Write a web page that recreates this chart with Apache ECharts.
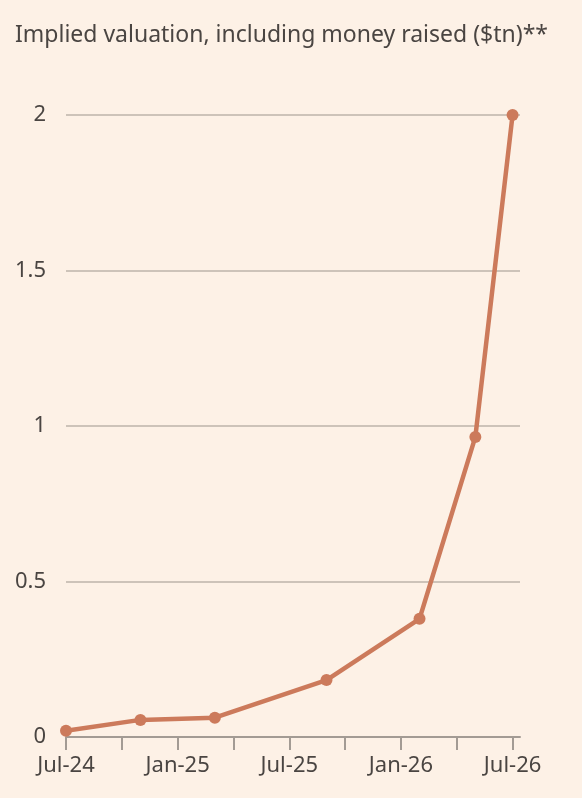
<!DOCTYPE html>
<html>
<head>
<meta charset="utf-8">
<script src="https://cdn.jsdelivr.net/npm/echarts@6/dist/echarts.min.js"></script>
<style>
  html, body { margin: 0; padding: 0; background: #fdf1e6; }
  #chart { width: 582px; height: 798px; }
</style>
</head>
<body>
<div id="chart"></div>
<script>
// funding rounds (month) and implied valuation in $tn
const roundDates = ["2024-07", "2024-11", "2025-03", "2025-09", "2026-02", "2026-05", "2026-07"];
const valuations = [0.02, 0.055, 0.062, 0.183, 0.38, 0.965, 2.0];
const yTicks = [0, 0.5, 1, 1.5, 2];
const tickMonths = ["2024-07", "2024-10", "2025-01", "2025-04", "2025-07", "2025-10", "2026-01", "2026-04", "2026-07"];
const labelMonths = ["2024-07", "2025-01", "2025-07", "2026-01", "2026-07"];

const monthNames = ["Jan", "Feb", "Mar", "Apr", "May", "Jun", "Jul", "Aug", "Sep", "Oct", "Nov", "Dec"];
// months since Jul-24
function toIndex(s) {
  const [y, m] = s.split("-").map(Number);
  return (y - 2024) * 12 + (m - 7);
}
function toLabel(i) {
  const total = 2024 * 12 + 6 + Math.round(i);
  const y = Math.floor(total / 12), m = total % 12;
  return monthNames[m] + "-" + String(y).slice(2);
}

const textColor = "#4a4542";
const font = "'Noto Sans', sans-serif";

const chart = echarts.init(document.getElementById("chart"));
chart.setOption({
  backgroundColor: "#fdf1e6",
  animation: false,
  title: {
    text: "Implied valuation, including money raised ($tn)**",
    left: 10,
    top: 19,
    textStyle: { color: textColor, fontFamily: font, fontSize: 23, fontWeight: "normal" },
  },
  grid: { left: 66, right: 62, top: 115, bottom: 61 },
  xAxis: {
    type: "value",
    min: 0,
    max: 24.4,
    axisLine: { show: true, lineStyle: { color: "#a39b94", width: 2 } },
    axisTick: {
      show: true,
      length: 13,
      lineStyle: { color: "#a39b94", width: 2 },
      customValues: tickMonths.map(toIndex),
    },
    axisLabel: {
      color: textColor,
      fontFamily: font,
      fontSize: 22,
      margin: 18,
      customValues: labelMonths.map(toIndex),
      formatter: (v) => toLabel(v),
    },
    splitLine: { show: false },
  },
  yAxis: {
    type: "value",
    min: 0,
    max: 2,
    interval: 0.5,
    axisLine: { show: false },
    axisTick: { show: false },
    axisLabel: {
      color: textColor,
      fontFamily: font,
      fontSize: 22,
      margin: 20,
      formatter: (v) => (yTicks.includes(v) ? String(v) : ""),
    },
    splitLine: { show: true, lineStyle: { color: "#cdc3b9", width: 2 } },
  },
  series: [
    {
      type: "line",
      data: roundDates.map((d, i) => [toIndex(d), valuations[i]]),
      symbol: "circle",
      symbolSize: 12,
      lineStyle: { color: "#cc7a5b", width: 4.5 },
      itemStyle: { color: "#cc7a5b" },
      clip: false,
    },
  ],
});
</script>
</body>
</html>
